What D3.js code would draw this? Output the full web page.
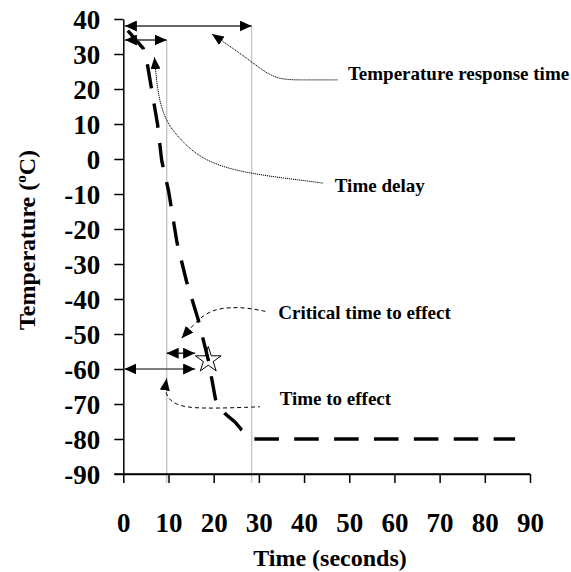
<!DOCTYPE html>
<html>
<head>
<meta charset="utf-8">
<script src="https://cdn.jsdelivr.net/npm/d3@7"></script>
<style>
  html, body { margin: 0; padding: 0; background: #fff; }
  svg { display: block; }
  text { font-family: "Liberation Serif", "Times New Roman", serif; font-weight: bold; fill: #000; }
</style>
</head>
<body>
<svg id="chart" width="571" height="572"></svg>
<script>
// ---------- data ----------
const times = [1.0, 4.4, 5.3, 7.6, 8.5, 10.0, 11.9, 14.0, 16.6, 18.8, 20.5, 22.5, 24.7, 26.2, 29.0, 86.7];
const temps = [36.7, 31.6, 27.3, 9.7, -0.5, -9, -24, -35, -46, -57.4, -69.3, -72.7, -75.1, -77.4, -80, -80];
const xTicks = [0, 10, 20, 30, 40, 50, 60, 70, 80, 90];
const yTicks = [40, 30, 20, 10, 0, -10, -20, -30, -40, -50, -60, -70, -80, -90];
const xTitle = "Time (seconds)";
const yTitle = ["Temperature (", "o", "C)"];

// critical point (star)
const starPoint = [18.8, -57];

// double-headed interval arrows [tStart, tEnd, temperature]
const responseArrow = [0.35, 28.4, 38];
const delayArrow = [0.35, 9.6, 34];
const effectArrow = [0.25, 15.9, -60];
const criticalArrow = [9.6, 15.9, -55.5];

// guide lines [time, top temperature]
const guides = [[9.6, 34], [28.4, 38]];

// annotations: label, label anchor [t, T], leader path (arrow tip first)
const annResponseLabel = "Temperature response time";
const annResponsePos = [49.7, 22.6];
const annResponseT = [19.6, 25.0, 28.6, 32.5, 35.8, 40, 47.5];
const annResponseV = [35.7, 31.0, 27.5, 23.8, 22.6, 22.6, 22.6];

const annDelayLabel = "Time delay";
const annDelayPos = [46.8, -9.3];
const annDelayT = [6.9, 7.7, 9.5, 11.1, 15.9, 22.5, 31.4, 39.1, 44.2];
const annDelayV = [29.1, 17.3, 11.0, 7.8, 1.1, -2.7, -4.8, -6.0, -6.9];

const annCriticalLabel = "Critical time to effect";
const annCriticalPos = [34.3, -45.8];
const annCriticalT = [12.9, 15.5, 17.7, 20.5, 23.6, 27.5, 31.7];
const annCriticalV = [-51.2, -47.4, -44.6, -42.9, -42.4, -42.5, -43.6];

const annEffectLabel = "Time to effect";
const annEffectPos = [34.6, -70.3];
const annEffectT = [9.6, 9.2, 10.0, 13.3, 22.1, 30.2];
const annEffectV = [-62.7, -66.0, -68.9, -71.2, -71.2, -70.8];

// ---------- layout ----------
const svg = d3.select("#chart");
const x = d3.scaleLinear().domain([0, 90]).range([123.3, 530]);
const y = d3.scaleLinear().domain([-90, 40]).range([474, 19]);
const zip = (a, b) => a.map((d, i) => [d, b[i]]);
const fmt = d => String(d);

const defs = svg.append("defs");
function marker(id, len, wid) {
  defs.append("marker")
    .attr("id", id)
    .attr("viewBox", `0 ${-wid / 2} ${len} ${wid}`)
    .attr("refX", len).attr("refY", 0)
    .attr("markerWidth", len).attr("markerHeight", wid)
    .attr("markerUnits", "userSpaceOnUse")
    .attr("orient", "auto-start-reverse")
    .append("path")
    .attr("d", `M0,${-wid / 2}L${len},0L0,${wid / 2}Z`)
    .attr("fill", "#000");
}
marker("ah", 12, 11);
marker("lh", 12, 10);

// guide lines
svg.append("g").selectAll("line").data(guides).join("line")
  .attr("x1", d => x(d[0])).attr("x2", d => x(d[0]))
  .attr("y1", d => y(d[1])).attr("y2", y(-90) + 9)
  .attr("stroke", "#c8c8c8").attr("stroke-width", 1.5);

// axes
const xAxis = svg.append("g").attr("transform", `translate(0,${y(-90)})`)
  .call(d3.axisBottom(x).tickValues(xTicks).tickFormat(fmt).tickSize(9).tickSizeOuter(0).tickPadding(30));
const yAxis = svg.append("g").attr("transform", `translate(${x(0)},0)`)
  .call(d3.axisLeft(y).tickValues(yTicks).tickFormat(fmt).tickSize(9).tickSizeOuter(0).tickPadding(14));
[xAxis, yAxis].forEach(g => {
  g.select(".domain").attr("stroke", "#000").attr("stroke-width", 1.5);
  g.selectAll(".tick line").attr("stroke", "#000").attr("stroke-width", 1.5);
  g.selectAll(".tick text").attr("font-family", "'Liberation Serif', 'Times New Roman', serif")
    .attr("font-weight", "bold").attr("font-size", 27).attr("fill", "#000");
});
// extend x-axis line to the left like the reference
svg.append("line").attr("x1", x(0) - 9).attr("x2", x(90))
  .attr("y1", y(-90)).attr("y2", y(-90)).attr("stroke", "#000").attr("stroke-width", 1.5);
yAxis.selectAll(".tick text").attr("dy", "0.36em");

// axis titles
svg.append("text").attr("x", 330).attr("y", 566).attr("text-anchor", "middle")
  .attr("font-size", 24).text(xTitle);
const yt = svg.append("text").attr("transform", "translate(35,240) rotate(-90)")
  .attr("text-anchor", "middle").attr("font-size", 24);
yt.append("tspan").text(yTitle[0]);
yt.append("tspan").attr("font-size", 15).attr("dy", -9).text(yTitle[1]);
yt.append("tspan").attr("dy", 9).text(yTitle[2]);

// star
svg.append("path")
  .attr("d", d3.symbol(d3.symbolStar).size(205)())
  .attr("transform", `translate(${x(starPoint[0])},${y(starPoint[1]) + 1.5})`)
  .attr("fill", "#fff").attr("stroke", "#000").attr("stroke-width", 1);

// main dashed curve (dash period fitted so the pattern starts at both ends of the drop)
const line = d3.line().x(d => x(d[0])).y(d => y(d[1]));
const pts = zip(times, temps);
const cornerIdx = temps.indexOf(-80);
const tmp = svg.append("path").attr("d", line(pts.slice(0, cornerIdx + 1)));
const Lc = tmp.node().getTotalLength();
tmp.remove();
const period = Lc / Math.round(Lc / 39.3);
svg.append("path")
  .attr("d", line(pts))
  .attr("fill", "none").attr("stroke", "#000").attr("stroke-width", 3.4)
  .attr("stroke-dasharray", `${period * 0.615},${period * 0.385}`);

// interval arrows
function interval(a, color) {
  svg.append("line")
    .attr("x1", x(a[0])).attr("x2", x(a[1]))
    .attr("y1", y(a[2])).attr("y2", y(a[2]))
    .attr("stroke", color).attr("stroke-width", 1.6)
    .attr("marker-start", "url(#ah)").attr("marker-end", "url(#ah)");
}
interval(responseArrow, "#333");
interval(delayArrow, "#333");
interval(effectArrow, "#555");
interval(criticalArrow, "#333");

// annotations
const curve = d3.line().x(d => x(d[0])).y(d => y(d[1])).curve(d3.curveBasis);
function annotation(label, pos, ts, vs, dash) {
  svg.append("path")
    .attr("d", curve(zip(ts, vs)))
    .attr("fill", "none").attr("stroke", "#000").attr("stroke-width", 1)
    .attr("stroke-dasharray", dash)
    .attr("marker-start", "url(#lh)");
  svg.append("text").attr("x", x(pos[0])).attr("y", y(pos[1]))
    .attr("font-size", 19).text(label);
}
annotation(annResponseLabel, annResponsePos, annResponseT, annResponseV, "1.2,0.8");
annotation(annDelayLabel, annDelayPos, annDelayT, annDelayV, "1.2,0.8");
annotation(annCriticalLabel, annCriticalPos, annCriticalT, annCriticalV, "4,3");
annotation(annEffectLabel, annEffectPos, annEffectT, annEffectV, "4,3");
</script>
</body>
</html>
